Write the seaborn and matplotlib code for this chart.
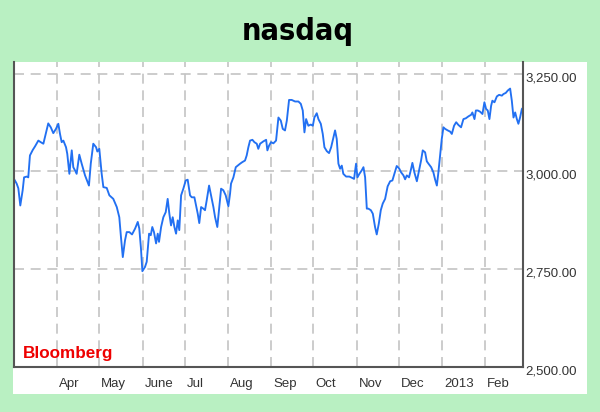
import matplotlib
matplotlib.use("Agg")
import matplotlib.pyplot as plt
import matplotlib.transforms as mtransforms
from matplotlib import font_manager
from matplotlib.patches import Rectangle
from matplotlib.ticker import FuncFormatter
import seaborn as sns
import pandas as pd

# ---- data ----
start_date = "2012-03-01"
day_offsets = [
    0.0, 1.9, 3.1, 4.5, 6.2, 7.2, 9.1, 10.2, 11.4, 13.4, 15.0, 17.4, 19.1, 21.0, 22.7, 24.5,
    26.3, 28.1, 30.0, 31.7, 32.9, 34.1, 35.3, 37.2, 38.1, 39.6, 41.3, 42.4, 43.6, 44.8, 46.7,
    48.4, 50.8, 53.6, 54.9, 56.7, 58.7, 59.6, 61.0, 62.7, 63.9, 66.3, 68.2, 71.0, 73.5, 75.3,
    76.5, 77.8, 79.4, 80.6, 82.5, 84.4, 86.6, 88.5, 89.6, 90.8, 91.8, 93.7, 94.9, 96.6, 97.8,
    98.9, 100.1, 101.6, 102.8, 103.7, 105.2, 106.8, 108.5, 109.9, 111.1, 112.3, 113.5, 114.7,
    115.9, 117.1, 118.2, 119.5, 121.1, 122.8, 124.2, 125.9, 127.1, 129.0, 130.2, 131.4, 132.5,
    133.8, 135.4, 136.6, 137.8, 139.5, 140.9, 142.6, 143.8, 145.4, 146.6, 148.1, 149.7, 151.4,
    153.3, 154.5, 155.2, 156.9, 158.6, 160.0, 161.7, 163.3, 165.2, 166.4, 167.6, 168.8, 170.5,
    171.9, 173.6, 174.7, 176.0, 178.3, 180.3, 181.2, 182.4, 183.8, 185.5, 187.4, 189.1, 190.8,
    192.2, 193.8, 195.1, 196.7, 198.6, 201.0, 203.4, 205.1, 206.5, 207.7, 208.9, 210.5, 212.2,
    213.7, 214.8, 216.5, 217.7, 219.4, 220.8, 222.0, 223.7, 225.3, 226.8, 228.4, 229.6, 230.8,
    232.0, 233.2, 234.4, 235.5, 237.5, 239.8, 241.6, 243.2, 244.6, 245.6, 247.0, 248.7, 249.9,
    251.1, 252.3, 253.4, 255.2, 256.6, 258.2, 259.4, 260.9, 262.3, 263.7, 265.4, 267.2, 269.0,
    270.6, 272.0, 273.7, 275.4, 276.8, 278.5, 279.7, 280.9, 282.5, 284.0, 284.9, 286.3, 288.1,
    289.7, 291.1, 292.3, 294.0, 295.2, 296.4, 298.3, 299.9, 301.1, 302.4, 303.5, 304.7, 305.9,
    307.1, 308.3, 310.2, 311.9, 313.1, 314.7, 316.2, 317.8, 319.7, 321.4, 323.1, 325.0, 326.9,
    327.8, 329.3, 330.3, 331.7, 333.3, 335.0, 336.4, 337.6, 338.8, 340.0, 341.2, 342.1, 343.6,
    345.3, 346.9, 348.9, 350.0, 351.7, 353.1, 354.8, 356.0, 357.2, 358.4, 359.6, 360.7, 361.9,
    363.2, 364.3,
]
nasdaq = [
    2981, 2969, 2957, 2913, 2952, 2985, 2987, 2985, 3041, 3055, 3064, 3079, 3075, 3071, 3096, 3123,
    3113, 3098, 3109, 3122, 3096, 3075, 3079, 3062, 3045, 2994, 3054, 3011, 3003, 2994, 3043,
    3020, 2990, 2964, 3020, 3071, 3062, 3051, 3058, 2994, 2960, 2958, 2939, 2930, 2909, 2883,
    2832, 2781, 2824, 2845, 2845, 2839, 2854, 2871, 2854, 2803, 2745, 2756, 2769, 2841, 2837,
    2858, 2845, 2816, 2841, 2820, 2858, 2883, 2896, 2930, 2892, 2862, 2883, 2858,
    2841, 2875, 2850, 2939, 2956, 2977, 2979, 2939, 2934, 2934, 2913, 2892, 2868,
    2909, 2905, 2901, 2926, 2964, 2939, 2909, 2883, 2858, 2901, 2956, 2952, 2939,
    2911, 2943, 2969, 2985, 3011, 3015, 3020, 3024, 3028, 3041, 3062, 3079, 3081,
    3075, 3071, 3058, 3071, 3077, 3081, 3054, 3066, 3075, 3072, 3079, 3138, 3130,
    3109, 3105, 3130, 3183, 3183, 3179, 3179, 3173, 3156, 3100, 3134, 3117, 3120,
    3117, 3138, 3149, 3134, 3122, 3096, 3062, 3052, 3047, 3062, 3087, 3105, 3083,
    3020, 3007, 3015, 2994, 2987, 2987, 2984, 2981, 3020, 2985, 2994, 3003, 3011,
    2985, 2905, 2905, 2901, 2892, 2858, 2839, 2867, 2901, 2918, 2930, 2962, 2975,
    2977, 2994, 3014, 3008, 2998, 2990, 2980, 2990, 2985, 3007, 3022, 2998, 2975,
    3003, 3028, 3054, 3049, 3026, 3020, 3011, 2998, 2980, 2964, 2998, 3041, 3083,
    3113, 3109, 3105, 3102, 3096, 3117, 3126, 3119, 3113, 3134, 3136, 3141, 3145,
    3151, 3134, 3156, 3156, 3153, 3147, 3177, 3160, 3156, 3134, 3168, 3181, 3177,
    3192, 3196, 3194, 3198, 3201, 3207, 3212, 3181, 3138, 3151, 3134, 3122, 3138,
    3160, 3164,
]
month_ticks = ["2012-04-01", "2012-05-01", "2012-06-01", "2012-07-01", "2012-08-01",
               "2012-09-01", "2012-10-01", "2012-11-01", "2012-12-01", "2013-01-01",
               "2013-02-01"]
month_labels = ["Apr", "May", "June", "Jul", "Aug", "Sep", "Oct", "Nov", "Dec", "2013", "Feb"]
y_ticks = [2500, 2750, 3000, 3250]
title = "nasdaq"
source = "Bloomberg"

# ---- build frame ----
dates = pd.Timestamp(start_date) + pd.to_timedelta(day_offsets, unit="D")
df = pd.DataFrame({"date": dates, "value": nasdaq})

sns.set_theme(style="white")
plt.rcParams["font.family"] = ["Liberation Sans", "DejaVu Sans"]

# pick a narrow bold family for the title
title_family = "DejaVu Sans"
for fam in ["Liberation Sans Narrow", "DejaVu Sans Condensed"]:
    try:
        font_manager.findfont(font_manager.FontProperties(family=fam, weight="bold"),
                              fallback_to_default=False)
        title_family = fam
        break
    except Exception:
        pass

bg = "#b9f0c2"
fig = plt.figure(figsize=(6.0, 4.12), dpi=100, facecolor=bg)

# white panel behind chart + labels
fig.patches.append(Rectangle((13 / 600, 1 - 394 / 412), (587 - 13) / 600, (394 - 62) / 412,
                             transform=fig.transFigure, facecolor="white",
                             edgecolor="none", zorder=-5))

ax = fig.add_axes([14 / 600, 1 - 367 / 412, (523 - 14) / 600, (367 - 62) / 412])
ax.set_zorder(2)
ax.set_facecolor("white")

sns.lineplot(data=df, x="date", y="value", ax=ax, color="#2270f2", linewidth=1.35)

ax.set_xlim(pd.Timestamp("2012-03-01"), pd.Timestamp("2013-02-28"))
ax.set_ylim(2500, 3280)

xt = pd.to_datetime(month_ticks)
ax.set_xticks(xt)
ax.set_xticklabels(month_labels, ha="left")
ax.set_yticks(y_ticks)
ax.yaxis.set_major_formatter(FuncFormatter(lambda v, p: f"{v:,.2f}"))
ax.yaxis.tick_right()
ax.set_xlabel("")
ax.set_ylabel("")

ax.tick_params(axis="x", length=0, pad=8, labelsize=9.5, labelcolor="#333333")
ax.tick_params(axis="y", length=0, pad=2, labelsize=9.5, labelcolor="#333333")

# shift x labels slightly right of the gridline, y labels slightly down
offx = mtransforms.ScaledTranslation(2 / 100, 0, fig.dpi_scale_trans)
for lbl in ax.get_xticklabels():
    lbl.set_transform(lbl.get_transform() + offx)
offy = mtransforms.ScaledTranslation(0, -3 / 100, fig.dpi_scale_trans)
for lbl in ax.get_yticklabels():
    lbl.set_transform(lbl.get_transform() + offy)

ax.grid(True, which="major", color="#c4c4c4", linestyle=(0, (6, 4)), linewidth=1.2)

for side in ["left", "bottom", "right"]:
    ax.spines[side].set_visible(True)
    ax.spines[side].set_color("#555555")
    ax.spines[side].set_linewidth(1.5)
ax.spines["top"].set_visible(False)

fig.text(0.497, 1 - 40 / 412, title, ha="center", va="baseline",
         fontsize=22, fontweight="heavy", color="black",
         family=[title_family, "DejaVu Sans"], fontstretch="condensed")
fig.text(23 / 600, 1 - 358 / 412, source, ha="left", va="baseline",
         fontsize=12.3, fontweight="bold", color="#ee0000")

fig.savefig("out.png", dpi=100, facecolor=bg)
